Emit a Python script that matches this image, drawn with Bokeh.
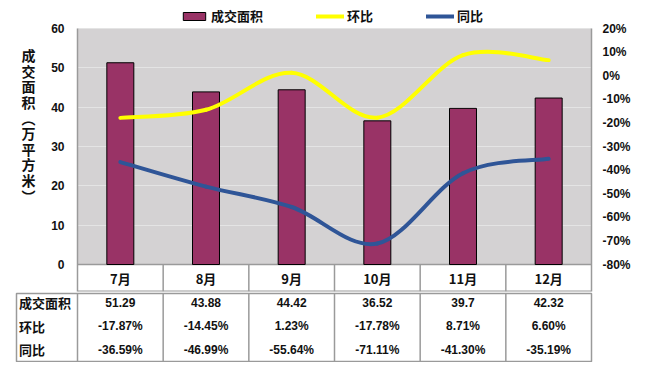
from bokeh.plotting import figure
from bokeh.models import (Range1d, LinearAxis, FixedTicker, PrintfTickFormatter,
                          ColumnDataSource, Legend, LegendItem)
from bokeh.layouts import column, row
from bokeh.embed import file_html
from bokeh.resources import INLINE
from bokeh.core.properties import value

# ---------------- data ----------------
months = ["7月", "8月", "9月", "10月", "11月", "12月"]
area = [51.29, 43.88, 44.42, 36.52, 39.7, 42.32]          # 成交面积 (万平方米)
huanbi = [-17.87, -14.45, 1.23, -17.78, 8.71, 6.60]       # 环比 %
tongbi = [-36.59, -46.99, -55.64, -71.11, -41.30, -35.19] # 同比 %
left_ticks = [0, 10, 20, 30, 40, 50, 60]
right_ticks = [-80, -70, -60, -50, -40, -30, -20, -10, 0, 10, 20]
series_names = ["成交面积", "环比", "同比"]
y_title = ["成", "交", "面", "积", "︵", "万", "平", "方", "米", "︶"]

# ---------------- styles / layout ----------------
BAR = "#993366"
YEL = "#FFFF00"
BLU = "#2F5597"
BG = "#D4D2D3"
GRID = "#E4E4E4"
EDGE = "#9A9A9A"
TXT = "#111111"
CJK = "Noto Sans CJK SC"
LAT = "Liberation Sans"

W = 645
TW = 40          # width of the strip holding the vertical axis title
FRAME_X0 = 77    # left edge of plot area
B_RIGHT = 54
B_TOP = 2        # canvas border above the (extended) frame
PLOT_TOP = 28    # page y of the 60 gridline
PLOT_H = 236     # pixel height of 0..60
BAND_H = 27      # category row
H1 = PLOT_TOP + PLOT_H + BAND_H + 1
lo, hi = left_ticks[0], left_ticks[-1]
upp = (hi - lo) / PLOT_H                       # data units per pixel
ymin = lo - BAND_H * upp
ymax = hi + (PLOT_TOP - B_TOP) * upp
pscale = (right_ticks[-1] - right_ticks[0]) / (hi - lo)
pmin = right_ticks[0] + (ymin - lo) * pscale
pmax = right_ticks[0] + (ymax - lo) * pscale

n = len(months)
xs = [i + 0.5 for i in range(n)]

# ---- title strip (vertical, stacked characters) ----
tf = figure(width=TW, height=H1, x_range=Range1d(0, TW), y_range=Range1d(H1, 0),
            output_backend="svg", toolbar_location=None, title=None,
            x_axis_location=None, y_axis_location=None,
            min_border=0, outline_line_color=None, background_fill_color="white",
            border_fill_color="white")
tf.xgrid.grid_line_color = None
tf.ygrid.grid_line_color = None
TITLE_Y0, TITLE_STEP = 53, 15.8
tf.text(x=[28] * len(y_title), y=[TITLE_Y0 + TITLE_STEP * i for i in range(len(y_title))],
        text=y_title, text_align="center", text_baseline="middle",
        text_font=value(CJK), text_font_style="bold", text_font_size="14px", text_color=TXT)

# ---- main chart ----
p = figure(width=W - TW, height=H1, x_range=Range1d(0, n), y_range=Range1d(ymin, ymax),
           output_backend="svg", toolbar_location=None, title=None,
           x_axis_location=None, y_axis_location="left",
           min_border_left=FRAME_X0 - TW, min_border_right=B_RIGHT, min_border_top=B_TOP,
           min_border_bottom=1, background_fill_color="white", border_fill_color="white",
           outline_line_color=None)
p.extra_y_ranges = {"pct": Range1d(pmin, pmax)}

def style_axis(ax):
    ax.major_tick_out = 0
    ax.major_tick_in = 0
    ax.minor_tick_out = 0
    ax.minor_tick_in = 0
    ax.axis_line_color = EDGE
    ax.axis_line_width = 1.5
    ax.major_label_text_font = LAT
    ax.major_label_text_font_style = "bold"
    ax.major_label_text_font_size = "12px"
    ax.major_label_text_color = TXT

ly = p.yaxis[0]
ly.ticker = FixedTicker(ticks=left_ticks)
ly.bounds = (ymin, hi)
style_axis(ly)
ly.major_label_standoff = 13

ry = LinearAxis(y_range_name="pct", ticker=FixedTicker(ticks=right_ticks),
                formatter=PrintfTickFormatter(format="%d%%"), bounds=(pmin, right_ticks[-1]))
style_axis(ry)
ry.major_label_standoff = 11
ry.major_label_text_align = "left"
p.add_layout(ry, "right")

# plot-area background (drawn beneath the grid)
p.quad(left=0, right=n, bottom=lo, top=hi, fill_color=BG, line_color=None, level="image")
p.ygrid.ticker = FixedTicker(ticks=left_ticks)
p.ygrid.grid_line_color = GRID
p.ygrid.grid_line_width = 1
p.xgrid.grid_line_color = None

# category band
p.segment(x0=list(range(1, n)), y0=[ymin] * (n - 1), x1=list(range(1, n)), y1=[lo] * (n - 1),
          line_color=EDGE, line_width=1.5)
p.segment(x0=[0], y0=[lo], x1=[n], y1=[lo], line_color=EDGE, line_width=1.5)
p.segment(x0=[0], y0=[ymin], x1=[n], y1=[ymin], line_color=EDGE, line_width=2)
p.text(x=xs, y=[(ymin + lo) / 2] * n, text=months, text_align="center", text_baseline="middle",
       text_font=value(CJK), text_font_style="bold", text_font_size="13px", text_color=TXT)

# bars
bars = p.vbar(x=xs, top=area, bottom=0, width=0.315, fill_color=BAR, line_color="black",
              line_width=1)

# smooth lines (cubic Bezier through the data points)
def bezier_source(xv, yv):
    m = len(xv)
    d = dict(x0=[], y0=[], x1=[], y1=[], cx0=[], cy0=[], cx1=[], cy1=[])
    for i in range(m - 1):
        a = max(i - 1, 0)
        b = min(i + 2, m - 1)
        d["x0"].append(xv[i]); d["y0"].append(yv[i])
        d["x1"].append(xv[i + 1]); d["y1"].append(yv[i + 1])
        d["cx0"].append(xv[i] + (xv[i + 1] - xv[a]) / 6)
        d["cy0"].append(yv[i] + (yv[i + 1] - yv[a]) / 6)
        d["cx1"].append(xv[i + 1] - (xv[b] - xv[i]) / 6)
        d["cy1"].append(yv[i + 1] - (yv[b] - yv[i]) / 6)
    return ColumnDataSource(d)

curves = []
for vals, col in ((huanbi, YEL), (tongbi, BLU)):
    curves.append(p.bezier(x0="x0", y0="y0", x1="x1", y1="y1", cx0="cx0", cy0="cy0",
                           cx1="cx1", cy1="cy1", source=bezier_source(xs, vals),
                           y_range_name="pct", line_color=col, line_width=4,
                           line_cap="round"))

# legend (inside the extended frame, above the plot area)
legend = Legend(items=[LegendItem(label=series_names[0], renderers=[bars]),
                       LegendItem(label=series_names[1], renderers=[curves[0]]),
                       LegendItem(label=series_names[2], renderers=[curves[1]])],
                orientation="horizontal", location=(103, H1 - 1 - B_TOP - 23),
                padding=0, margin=0, spacing=53, glyph_width=28, glyph_height=10,
                label_standoff=3, label_height=16, border_line_color=None,
                background_fill_alpha=0, label_text_font=CJK, label_text_font_style="bold",
                label_text_font_size="13px", label_text_color=TXT)
p.add_layout(legend, "center")

# ---------------- data table ----------------
H2 = 70
colw = (W - FRAME_X0 - B_RIGHT) / n
x_start = -(FRAME_X0 - 16) / colw
pitch = 23.5
ytop = -9 / pitch
ybot = ytop + (H2 - 2) / pitch

t = figure(width=W, height=H2, x_range=Range1d(x_start, n), y_range=Range1d(ybot, ytop),
           output_backend="svg", toolbar_location=None, title=None,
           x_axis_location=None, y_axis_location=None,
           min_border_left=16, min_border_right=B_RIGHT, min_border_top=1, min_border_bottom=1,
           background_fill_color="white", border_fill_color="white",
           outline_line_color=EDGE, outline_line_width=1.5)
t.xgrid.grid_line_color = None
t.ygrid.grid_line_color = None
t.segment(x0=list(range(n)), y0=[ybot] * n, x1=list(range(n)), y1=[ytop] * n,
          line_color=EDGE, line_width=1.5)

rows = [[f"{v:g}" for v in area],
        [f"{v:.2f}%" for v in huanbi],
        [f"{v:.2f}%" for v in tongbi]]
for r, (name, labels) in enumerate(zip(series_names, rows)):
    t.text(x=[x_start + 2.5 / colw], y=[r], text=[name], text_align="left",
           text_baseline="middle", text_font=value(CJK), text_font_style="bold",
           text_font_size="13px", text_color=TXT)
    t.text(x=xs, y=[r] * n, text=labels, text_align="center", text_baseline="middle",
           text_font=value(LAT), text_font_style="bold", text_font_size="12px",
           text_color=TXT)

layout = column(row(tf, p, spacing=0), t, spacing=0)
open("out.html", "w").write(file_html(layout, INLINE))
